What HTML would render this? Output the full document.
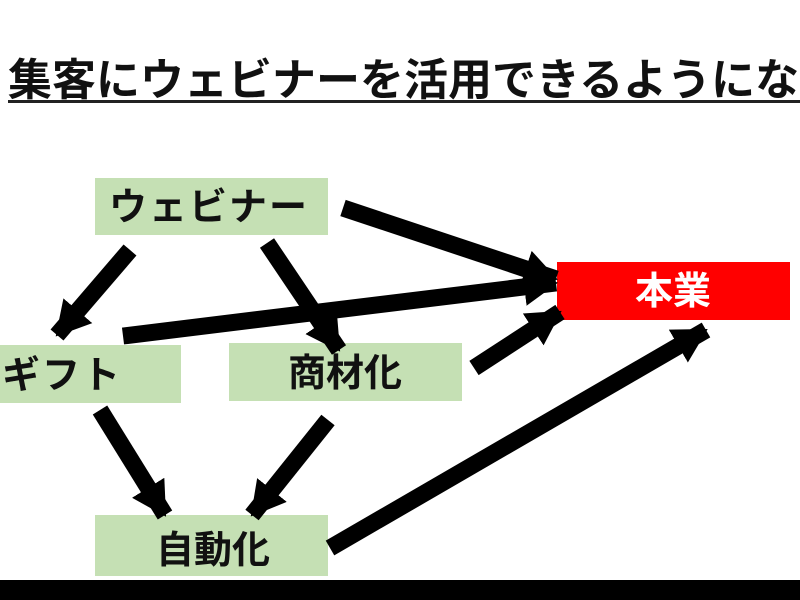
<!DOCTYPE html>
<html><head><meta charset="utf-8"><style>
html,body{margin:0;padding:0;background:#fff;width:800px;height:600px;overflow:hidden}
</style></head><body>
<svg width="800" height="600" xmlns="http://www.w3.org/2000/svg" style="display:block">
<defs>
<marker id="a" markerUnits="userSpaceOnUse" markerWidth="44" markerHeight="44" refX="32" refY="22" orient="auto">
<polygon points="0,3 34,22 0,41" fill="#000"/>
</marker>
</defs>
<rect width="800" height="600" fill="#fff"/>
<text x="8" y="95" font-family="'Liberation Sans','Noto Sans CJK JP',sans-serif" font-size="44" font-weight="bold" fill="#111" letter-spacing="0">集客にウェビナーを活用できるようになる</text>
<rect x="8" y="100" width="792" height="3" fill="#222"/>
<g fill="#c5e0b4">
<rect x="95" y="178" width="233" height="57"/>
<rect x="0" y="345" width="181" height="58"/>
<rect x="229" y="343" width="233" height="58"/>
<rect x="95" y="515" width="233" height="61"/>
</g>
<rect x="557" y="262" width="233" height="58" fill="#ff0000"/>
<g font-family="'Liberation Sans','Noto Sans CJK JP',sans-serif" font-size="38" font-weight="bold" text-anchor="middle" fill="#111">
<text x="209" y="220" letter-spacing="2">ウェビナー</text>
<text x="62" y="388" letter-spacing="2">ギフト</text>
<text x="345" y="386">商材化</text>
<text x="213" y="563">自動化</text>
<text x="673" y="304" fill="#fff">本業</text>
</g>
<g stroke="#000" stroke-width="17" marker-end="url(#a)">
<line x1="343" y1="208" x2="556" y2="279"/>
<line x1="130" y1="250" x2="57" y2="335"/>
<line x1="267" y1="243" x2="339" y2="350"/>
<line x1="123" y1="336" x2="556" y2="283"/>
<line x1="474" y1="368" x2="560" y2="312"/>
<line x1="100" y1="410" x2="165" y2="515"/>
<line x1="328" y1="420" x2="252" y2="515"/>
<line x1="330" y1="548" x2="706" y2="330"/>
</g>
<rect x="0" y="580" width="800" height="20" fill="#000"/>
</svg>
</body></html>
